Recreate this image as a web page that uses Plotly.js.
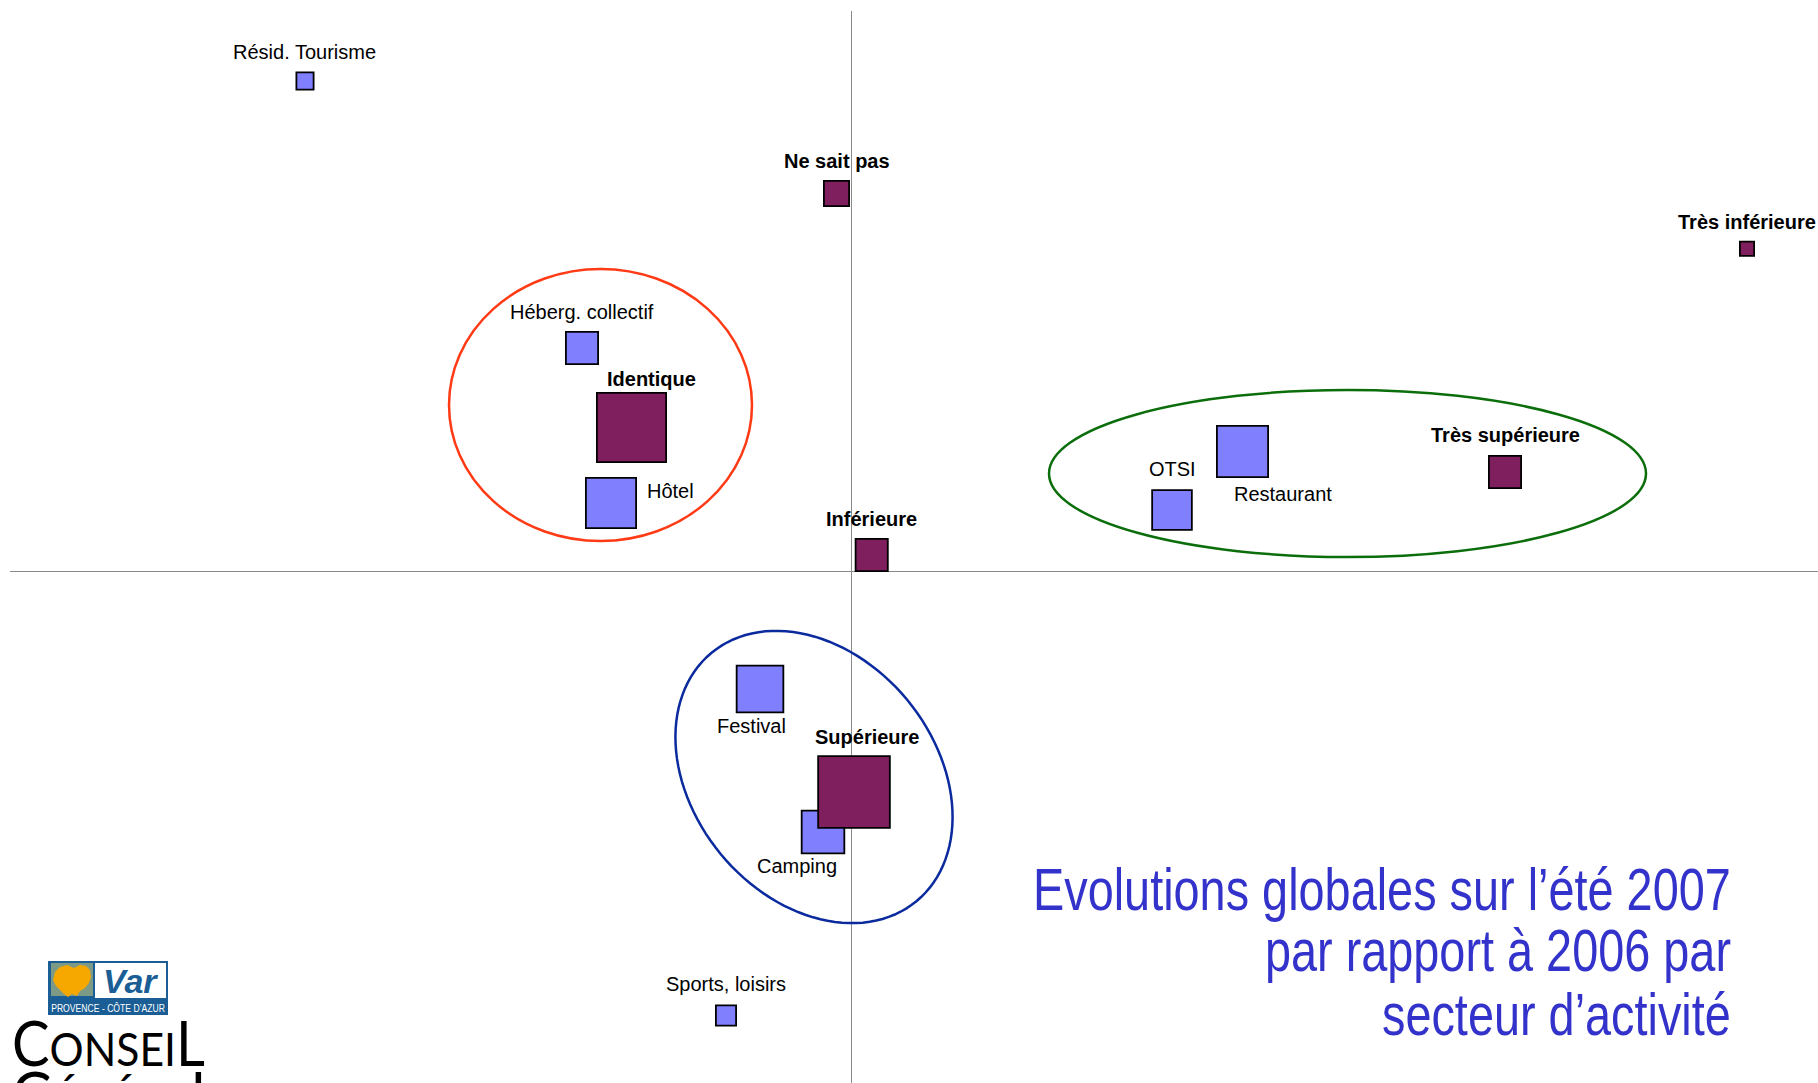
<!DOCTYPE html>
<html>
<head>
<meta charset="utf-8">
<script src="https://cdn.plot.ly/plotly-3.0.1.min.js"></script>
<style>
  html, body { margin: 0; padding: 0; background: #ffffff; }
  #chart { width: 1818px; height: 1083px; }
</style>
</head>
<body>
<div id="chart"></div>
<script>
// ---------- DATA (coordinates on the two factorial axes) ----------
const sectors      = ['Résid. Tourisme', 'Héberg. collectif', 'Hôtel', 'OTSI', 'Restaurant', 'Festival', 'Camping', 'Sports, loisirs'];
const sectorX      = [-0.546, -0.269, -0.240, 0.321, 0.3915, -0.091, -0.028, -0.125];
const sectorY      = [0.490, 0.223, 0.068, 0.061, 0.1195, -0.118, -0.261, -0.4445];
const sectorWeight = [2.96, 10.37, 25.2, 15.76, 26.2, 21.8, 18.2, 4.08];

const modalities   = ['Ne sait pas', 'Très inférieure', 'Identique', 'Inférieure', 'Très supérieure', 'Supérieure'];
const modX         = [-0.0145, 0.896, -0.2195, 0.0207, 0.654, 0.003];
const modY         = [0.3775, 0.3223, 0.1435, 0.016, 0.099, -0.221];
const modWeight    = [6.35, 2.02, 47.9, 10.37, 10.37, 51.4];

const titleLines   = ['Evolutions globales sur l’été 2007', 'par rapport à 2006 par', 'secteur d’activité'];

// ---------- STYLE / LAYOUT CONFIG ----------
const W = 1818, H = 1083;
const M = { l: 10, t: 11, r: 0, b: 0 };
const plotW = W - M.l - M.r, plotH = H - M.t - M.b;
const SCALE = 1000;                 // px per axis unit
const X0PX = 851, Y0PX = 571;       // origin location on page
const xRange = [(M.l - X0PX) / SCALE, (W - M.r - X0PX) / SCALE];
const yRange = [(Y0PX - (H - M.b)) / SCALE, (Y0PX - M.t) / SCALE];

// label offsets from marker centre (px, dx right, dy down)
const sectorLabelShift = [[-0.5, -29], [-0.5, -36], [59, -12], [0, -41], [40.5, 42.5], [-9, 36.5], [-26.5, 34], [-0.5, -32]];
const modLabelShift    = [[0, -32.5], [0, -27], [20, -48.5], [0, -36], [0, -37], [13, -55.5]];

const labelFont = 'Liberation Sans, Arial, sans-serif';

// page px -> paper
const PX = px => (px - M.l) / plotW;
const PY = py => (H - M.b - py) / plotH;

const markerBase = { symbol: 'square', sizemode: 'area', sizeref: 0.02, opacity: 1 };
const traces = [
  {
    type: 'scatter', mode: 'markers', x: sectorX, y: sectorY, text: sectors,
    marker: Object.assign({}, markerBase, { size: sectorWeight, color: '#8080FF', line: { color: '#000000', width: 1.8 } }),
    hoverinfo: 'text'
  },
  {
    type: 'scatter', mode: 'markers', x: modX, y: modY, text: modalities,
    marker: Object.assign({}, markerBase, { size: modWeight, color: '#7F1F5E', line: { color: '#000000', width: 1.8 } }),
    hoverinfo: 'text'
  }
];

const annotations = [];
sectors.forEach((s, i) => annotations.push({
  x: sectorX[i], y: sectorY[i], xref: 'x', yref: 'y', text: s, showarrow: false,
  xanchor: 'center', yanchor: 'middle',
  xshift: sectorLabelShift[i][0], yshift: -sectorLabelShift[i][1],
  font: { family: labelFont, size: 20, color: '#000000' }
}));
modalities.forEach((s, i) => annotations.push({
  x: modX[i], y: modY[i], xref: 'x', yref: 'y', text: '<b>' + s + '</b>', showarrow: false,
  xanchor: 'center', yanchor: 'middle',
  xshift: modLabelShift[i][0], yshift: -modLabelShift[i][1],
  font: { family: labelFont, size: 20, color: '#000000' }
}));

// title (right-aligned, three lines) – condensed afterwards
const TITLE_RIGHT = 1733;
const titleMid = [889, 950.5, 1014];
const titleStart = annotations.length;
titleLines.forEach((t, i) => annotations.push({
  x: PX(TITLE_RIGHT), y: PY(titleMid[i]), xref: 'paper', yref: 'paper', text: t, showarrow: false,
  xanchor: 'right', yanchor: 'middle',
  font: { family: 'Liberation Sans, Arial, sans-serif', size: 60, color: '#3333CC' }
}));

// logo texts
annotations.push({
  x: PX(130), y: PY(981), xref: 'paper', yref: 'paper', text: '<b><i>Var</i></b>', showarrow: false,
  xanchor: 'center', yanchor: 'middle',
  font: { family: 'Liberation Sans, Arial, sans-serif', size: 34, color: '#1B5E96' }
});
const provIdx = annotations.length;
annotations.push({
  x: PX(108), y: PY(1007.5), xref: 'paper', yref: 'paper', text: 'PROVENCE - CÔTE D’AZUR', showarrow: false,
  xanchor: 'center', yanchor: 'middle',
  font: { family: 'Liberation Sans, Arial, sans-serif', size: 10, color: '#FFFFFF' }
});
const conseilIdx = annotations.length;
annotations.push({
  x: PX(10), y: PY(1042), xref: 'paper', yref: 'paper',
  text: '<span style="font-size:62px">C</span>ONSEI<span style="font-size:62px">L</span>', showarrow: false,
  xanchor: 'left', yanchor: 'middle',
  font: { family: 'Lato, Open Sans, sans-serif', size: 47, color: '#000000' }
});
const generalIdx = annotations.length;
annotations.push({
  x: PX(10), y: PY(1093), xref: 'paper', yref: 'paper',
  text: '<span style="font-size:62px">G</span>ÉNÉRA<span style="font-size:62px">L</span>', showarrow: false,
  xanchor: 'left', yanchor: 'middle',
  font: { family: 'Lato, Open Sans, sans-serif', size: 47, color: '#000000' }
});

// ---------- SHAPES ----------
const shapes = [];
shapes.push({ type: 'circle', xref: 'x', yref: 'y', layer: 'above',
  x0: (449 - X0PX) / SCALE, x1: (752 - X0PX) / SCALE, y0: (Y0PX - 541) / SCALE, y1: (Y0PX - 269) / SCALE,
  line: { color: '#FF3A14', width: 2.5 } });
shapes.push({ type: 'circle', xref: 'x', yref: 'y', layer: 'above',
  x0: (1049 - X0PX) / SCALE, x1: (1646 - X0PX) / SCALE, y0: (Y0PX - 557) / SCALE, y1: (Y0PX - 390) / SCALE,
  line: { color: '#0B6E0B', width: 2.5 } });
(function () {
  const cx = (814 - X0PX) / SCALE, cy = (Y0PX - 777) / SCALE;
  const a = 161 / SCALE, b = 121 / SCALE, th = -50.5 * Math.PI / 180;
  let d = '';
  for (let k = 0; k <= 120; k++) {
    const t = 2 * Math.PI * k / 120;
    const x = cx + a * Math.cos(th) * Math.cos(t) - b * Math.sin(th) * Math.sin(t);
    const y = cy + a * Math.sin(th) * Math.cos(t) + b * Math.cos(th) * Math.sin(t);
    d += (k === 0 ? 'M' : 'L') + x.toFixed(5) + ',' + y.toFixed(5);
  }
  d += 'Z';
  shapes.push({ type: 'path', xref: 'x', yref: 'y', layer: 'above', path: d,
    line: { color: '#0A2A9E', width: 2.5 } });
})();

function rectPx(x0, y0, x1, y1, fill) {
  return { type: 'rect', xref: 'paper', yref: 'paper', layer: 'above',
    x0: PX(x0), x1: PX(x1), y0: PY(y1), y1: PY(y0), fillcolor: fill, line: { width: 0 } };
}
shapes.push(rectPx(48, 961, 168, 1015, '#1B5E96'));
shapes.push(rectPx(51, 963, 93, 996, '#7C9A86'));
shapes.push(rectPx(95, 963, 166, 998, '#FFFFFF'));
(function () {
  const pts = [[55, 972], [60, 967], [67, 965], [74, 968], [80, 965], [86, 966], [90, 970], [91, 977], [89, 983],
               [85, 988], [80, 991], [77, 996], [72, 994], [68, 997], [64, 994], [60, 990], [56, 986], [53, 980]];
  let d = '';
  pts.forEach((p, i) => { d += (i === 0 ? 'M' : 'L') + PX(p[0]).toFixed(5) + ',' + PY(p[1]).toFixed(5); });
  d += 'Z';
  shapes.push({ type: 'path', xref: 'paper', yref: 'paper', layer: 'above', path: d,
    fillcolor: '#F7A800', line: { width: 0 } });
})();

const layout = {
  width: W, height: H,
  margin: M,
  paper_bgcolor: '#FFFFFF', plot_bgcolor: '#FFFFFF',
  showlegend: false,
  xaxis: { range: xRange, showgrid: false, zeroline: true, zerolinecolor: '#8A8A8A', zerolinewidth: 1,
           showticklabels: false, ticks: '', showline: false, fixedrange: true },
  yaxis: { range: yRange, showgrid: false, zeroline: true, zerolinecolor: '#8A8A8A', zerolinewidth: 1,
           showticklabels: false, ticks: '', showline: false, fixedrange: true },
  annotations: annotations,
  shapes: shapes
};

// horizontal condensing of a rendered annotation text (keeps it real text)
function squeeze(idx, scale, anchor) {
  const g = document.querySelector('g.annotation[data-index="' + idx + '"]');
  if (!g) return;
  const t = g.querySelector('text');
  const bb = t.getBBox();
  const ax = anchor === 'right' ? bb.x + bb.width : (anchor === 'left' ? bb.x : bb.x + bb.width / 2);
  const prev = t.getAttribute('transform') || '';
  t.setAttribute('transform', prev + ' translate(' + ax + ',0) scale(' + scale + ',1) translate(' + (-ax) + ',0)');
}
function widthOf(idx) {
  const g = document.querySelector('g.annotation[data-index="' + idx + '"]');
  return g ? g.querySelector('text').getBBox().width : 1;
}

Plotly.newPlot('chart', traces, layout, { displayModeBar: false, staticPlot: true }).then(function () {
  const s = 698 / widthOf(titleStart);
  for (let i = 0; i < titleLines.length; i++) squeeze(titleStart + i, s, 'right');
  squeeze(provIdx, 114 / widthOf(provIdx), 'center');
  const sc = 193 / widthOf(conseilIdx);
  squeeze(conseilIdx, sc, 'left');
  squeeze(generalIdx, sc, 'left');
});
</script>
</body>
</html>
